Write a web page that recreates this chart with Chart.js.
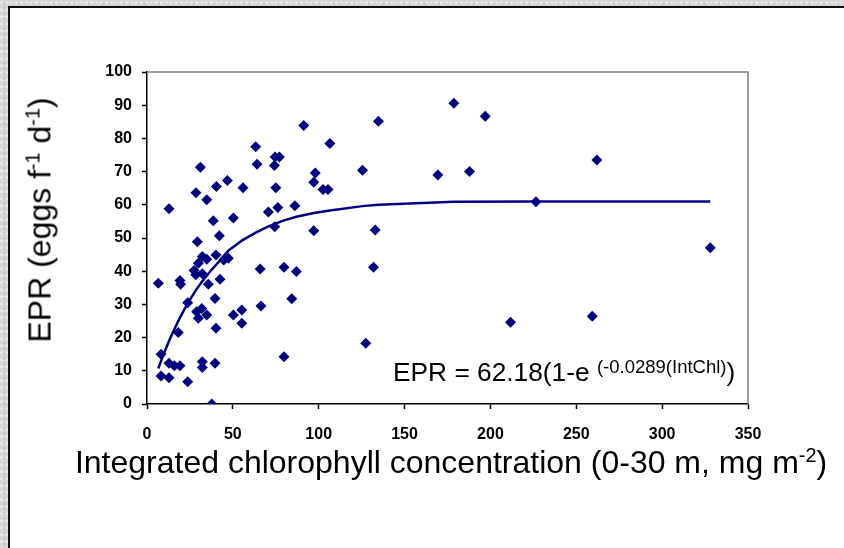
<!DOCTYPE html>
<html>
<head>
<meta charset="utf-8">
<script src="https://cdn.jsdelivr.net/npm/chart.js@4.4.1/dist/chart.umd.min.js"></script>
<style>
  html, body { margin: 0; padding: 0; }
  body {
    width: 844px; height: 548px; overflow: hidden; position: relative;
    background-color: #d6d6d6;
    background-image:
      radial-gradient(circle at 30% 40%, rgba(255,255,255,0.45) 0 1px, rgba(0,0,0,0) 2px),
      radial-gradient(circle at 70% 70%, rgba(170,170,170,0.35) 0 1px, rgba(0,0,0,0) 2px);
    background-size: 5px 7px, 7px 5px;
  }
  #panel {
    position: absolute; left: 8px; top: 6px; width: 860px; height: 560px;
    background: #ffffff; border-left: 2px solid #111; border-top: 2px solid #111;
  }
  #c { position: absolute; left: 0; top: 0; }
  .t { position: absolute; font-family: "Liberation Sans", Arial, sans-serif; color: #000; white-space: nowrap; }
  .t sup { font-size: 0.62em; vertical-align: 0.55em; line-height: 0; }
  #ytitle { font-size: 32px; left: 40px; top: 220px; transform: translate(-50%, -50%) rotate(-90deg); }
  #xtitle { font-size: 32px; left: 451px; top: 462px; transform: translate(-50%, -50%); }
  #eq { font-size: 26.3px; left: 393px; top: 357px; }
  #eq .s { font-size: 18.5px; position: relative; top: -8px; }
</style>
</head>
<body>
<div id="panel"></div>
<canvas id="c" width="844" height="548"></canvas>
<div class="t" id="ytitle">EPR (eggs f<sup>-1</sup> d<sup>-1</sup>)</div>
<div class="t" id="xtitle">Integrated chlorophyll concentration (0-30 m, mg m<sup>-2</sup>)</div>
<div class="t" id="eq">EPR = 62.18(1-e <span class="s">(-0.0289(IntChl)</span>)</div>
<script>
// Observed data: integrated chlorophyll (x) and EPR (y)
const intChl = [6.6, 8.2, 8.2, 12.8, 12.8, 12.8, 15.9, 18.2, 19.2, 19.2, 19.6, 23.7, 23.7, 27.4, 28.4, 28.5,
  28.9, 29.3, 29.9, 29.9, 31.1, 31.9, 32.2, 32.2, 32.2, 32.2, 34.8, 34.8, 34.8, 35.7, 37.7, 38.6, 39.6, 39.6,
  40.2, 40.2, 40.4, 42.1, 42.5, 44.7, 46.8, 47.4, 50.3, 50.3, 55.2, 55.2, 55.9, 63.3, 64.1, 65.9, 66.4, 70.7,
  74.2, 74.4, 74.6, 75.0, 76.2, 77.1, 79.8, 79.8, 84.3, 86.1, 87.0, 91.3, 97.1, 97.1, 98.0, 102.5, 105.4, 106.5,
  125.5, 127.4, 131.9, 132.9, 134.8, 169.4, 178.7, 187.8, 197.0, 211.7, 226.5, 259.3, 262.0, 328.0];
const epr = [36.4, 15.0, 8.4, 58.8, 12.3, 7.9, 11.5, 21.5, 11.5, 37.2, 36.1, 30.5, 6.7, 40.2, 38.9, 63.6,
  27.8, 48.9, 42.4, 25.8, 71.3, 28.8, 44.4, 39.2, 12.7, 11.0, 61.5, 43.6, 26.8, 36.1, 0.0, 55.2, 31.8, 12.3,
  44.9, 22.8, 65.5, 50.7, 37.6, 43.4, 67.3, 43.9, 56.0, 26.8, 28.3, 24.3, 65.1, 77.5, 72.2, 40.7, 29.5, 57.8,
  71.8, 53.4, 74.4, 65.1, 59.2, 74.4, 41.2, 14.2, 31.7, 59.7, 39.9, 83.9, 52.2, 66.8, 69.6, 64.6, 64.6, 78.5,
  70.4, 18.3, 41.2, 52.4, 85.2, 69.0, 90.6, 70.0, 86.7, 24.6, 60.9, 26.4, 73.5, 47.1];
// Fitted curve
const fitX = [6.6, 8.2, 12.8, 15.9, 19.2, 23.7, 28.5, 32.2, 37.7, 42.1, 47.4, 55.2, 63.3, 70.7, 79.8, 87.0,
  97.1, 106.5, 125.5, 134.8, 178.7, 226.5, 328.0];
const fitY = [10.7, 13.0, 19.0, 22.5, 26.0, 30.3, 34.3, 37.0, 40.5, 43.0, 46.2, 49.2, 51.6, 53.5, 55.3, 56.4,
  57.5, 58.3, 59.6, 60.0, 60.9, 61.0, 61.0];
const xTicks = [0, 50, 100, 150, 200, 250, 300, 350];
const yTicks = [0, 10, 20, 30, 40, 50, 60, 70, 80, 90, 100];

const navy = '#000080';
const pts = intChl.map((x, i) => ({ x: x, y: epr[i] }));
const fit = fitX.map((x, i) => ({ x: x, y: fitY[i] }));

const framePlugin = {
  id: 'frame',
  beforeDatasetsDraw(chart) {
    const a = chart.chartArea, ctx = chart.ctx;
    ctx.save();
    ctx.strokeStyle = '#808080';
    ctx.lineWidth = 1.5;
    ctx.beginPath();
    ctx.moveTo(a.left, a.top);
    ctx.lineTo(a.right, a.top);
    ctx.lineTo(a.right, a.bottom);
    ctx.stroke();
    ctx.restore();
  }
};

const tickFont = { family: '"Liberation Sans", Arial, sans-serif', size: 16, weight: 'bold' };

new Chart(document.getElementById('c'), {
  type: 'scatter',
  data: {
    datasets: [
      { label: 'fit', data: fit, showLine: true, borderColor: navy, borderWidth: 2.5,
        pointRadius: 0, fill: false, tension: 0, order: 2 },
      { label: 'EPR', data: pts, pointStyle: 'rectRot', pointRadius: 5.5, backgroundColor: navy,
        borderColor: navy, borderWidth: 0, order: 1 }
    ]
  },
  options: {
    responsive: false,
    animation: false,
    events: [],
    layout: { padding: { left: 0, top: 72, right: 96, bottom: 0 } },
    plugins: { legend: { display: false }, tooltip: { enabled: false } },
    scales: {
      x: {
        type: 'linear', min: 0, max: 350,
        afterBuildTicks: s => { s.ticks = xTicks.map(v => ({ value: v })); },
        afterFit: s => { s.height = 144; },
        ticks: { font: tickFont, color: '#000', padding: 16, maxRotation: 0 },
        grid: { drawOnChartArea: false, drawTicks: true, tickLength: 5, tickColor: '#000', tickWidth: 1.5 },
        border: { display: true, color: '#000', width: 1.5 }
      },
      y: {
        type: 'linear', min: 0, max: 100,
        afterBuildTicks: s => { s.ticks = yTicks.map(v => ({ value: v })); },
        afterFit: s => { s.width = 147; },
        ticks: { font: tickFont, color: '#000', padding: 10 },
        grid: { drawOnChartArea: false, drawTicks: true, tickLength: 5, tickColor: '#000', tickWidth: 1.5 },
        border: { display: true, color: '#000', width: 1.5 }
      }
    }
  },
  plugins: [framePlugin]
});
</script>
</body>
</html>
